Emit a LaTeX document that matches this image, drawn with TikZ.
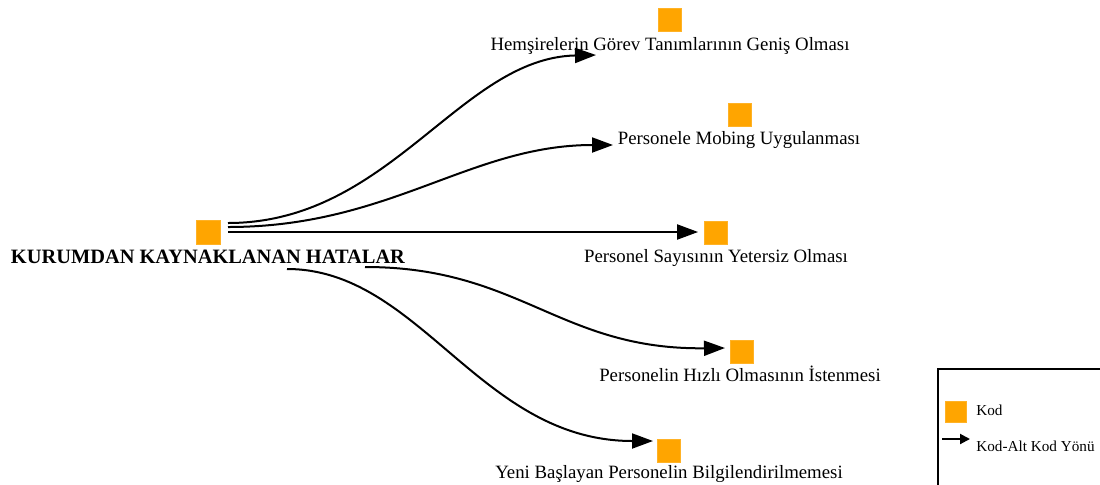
\documentclass[tikz,border=0pt]{standalone}
\usepackage{fontspec}
\setmainfont{Liberation Serif}
\usetikzlibrary{arrows.meta}
\definecolor{kodorange}{HTML}{FFA500}
\begin{document}
\begin{tikzpicture}[x=0.5pt,y=-0.5pt,
  kod/.style={fill=kodorange, draw=kodorange!85!white, line width=0.4pt, minimum size=11.5pt, inner sep=0pt},
  lbl/.style={font=\fontsize{9.4}{11}\selectfont, inner sep=0pt, anchor=base},
  link/.style={line width=1pt, -{Triangle[length=10.5pt,width=7.5pt]}},
  legendtext/.style={font=\fontsize{7.6}{9}\selectfont, inner sep=0pt, anchor=base west}]
\useasboundingbox (0,0) rectangle (1100,484);

% root code
\node[kod, minimum size=12pt] (root) at (208,232) {};
\node[inner sep=0pt, anchor=base, font=\bfseries\fontsize{10.2}{12}\selectfont] (rootlbl) at (208,263) {KURUMDAN KAYNAKLANAN HATALAR};

% sub-codes
\node[kod] (c1) at (670,20) {};
\node[lbl] (c1lbl) at (670,50) {Hemşirelerin Görev Tanımlarının Geniş Olması};
\node[kod] (c2) at (740,115) {};
\node[lbl] (c2lbl) at (739,144) {Personele Mobing Uygulanması};
\node[kod] (c3) at (716,233) {};
\node[lbl] (c3lbl) at (716,262) {Personel Sayısının Yetersiz Olması};
\node[kod] (c4) at (742,352) {};
\node[lbl] (c4lbl) at (740,381) {Personelin Hızlı Olmasının İstenmesi};
\node[kod] (c5) at (669,451) {};
\node[lbl] (c5lbl) at (669,478) {Yeni Başlayan Personelin Bilgilendirilmemesi};

% connector ends
\coordinate (s1) at (228,223);
\coordinate (s2) at (228,227);
\coordinate (s3) at (228,232);
\coordinate (s4) at (365,267);
\coordinate (s5) at (287,269);
\coordinate (e1) at (596,55);
\coordinate (e2) at (613,145);
\coordinate (e4) at (725,348);
\coordinate (e5) at (653,441);

\draw[link] (s1) .. controls (390,223) and (460,58) .. (e1);
\draw[link] (s2) .. controls (390,227) and (470,145) .. (e2);
\draw[link, shorten >=3pt] (s3) -- (c3.west |- s3);
\draw[link] (s4) .. controls (520,267) and (560,350) .. (e4);
\draw[link] (s5) .. controls (420,269) and (480,441) .. (e5);

% legend
\draw[line width=0.9pt] (938,369) rectangle (1112,496);
\node[kod, minimum size=10.5pt] (lk) at (955.5,412) {};
\node[legendtext] (lktext) at (976,415) {Kod};
\coordinate (la) at (942,439);
\coordinate (lb) at (970,439);
\draw[line width=1pt, -{Triangle[length=5pt,width=5pt]}] (la) -- (lb);
\node[legendtext] (latext) at (976,451) {Kod-Alt Kod Yönü};
\end{tikzpicture}
\end{document}
